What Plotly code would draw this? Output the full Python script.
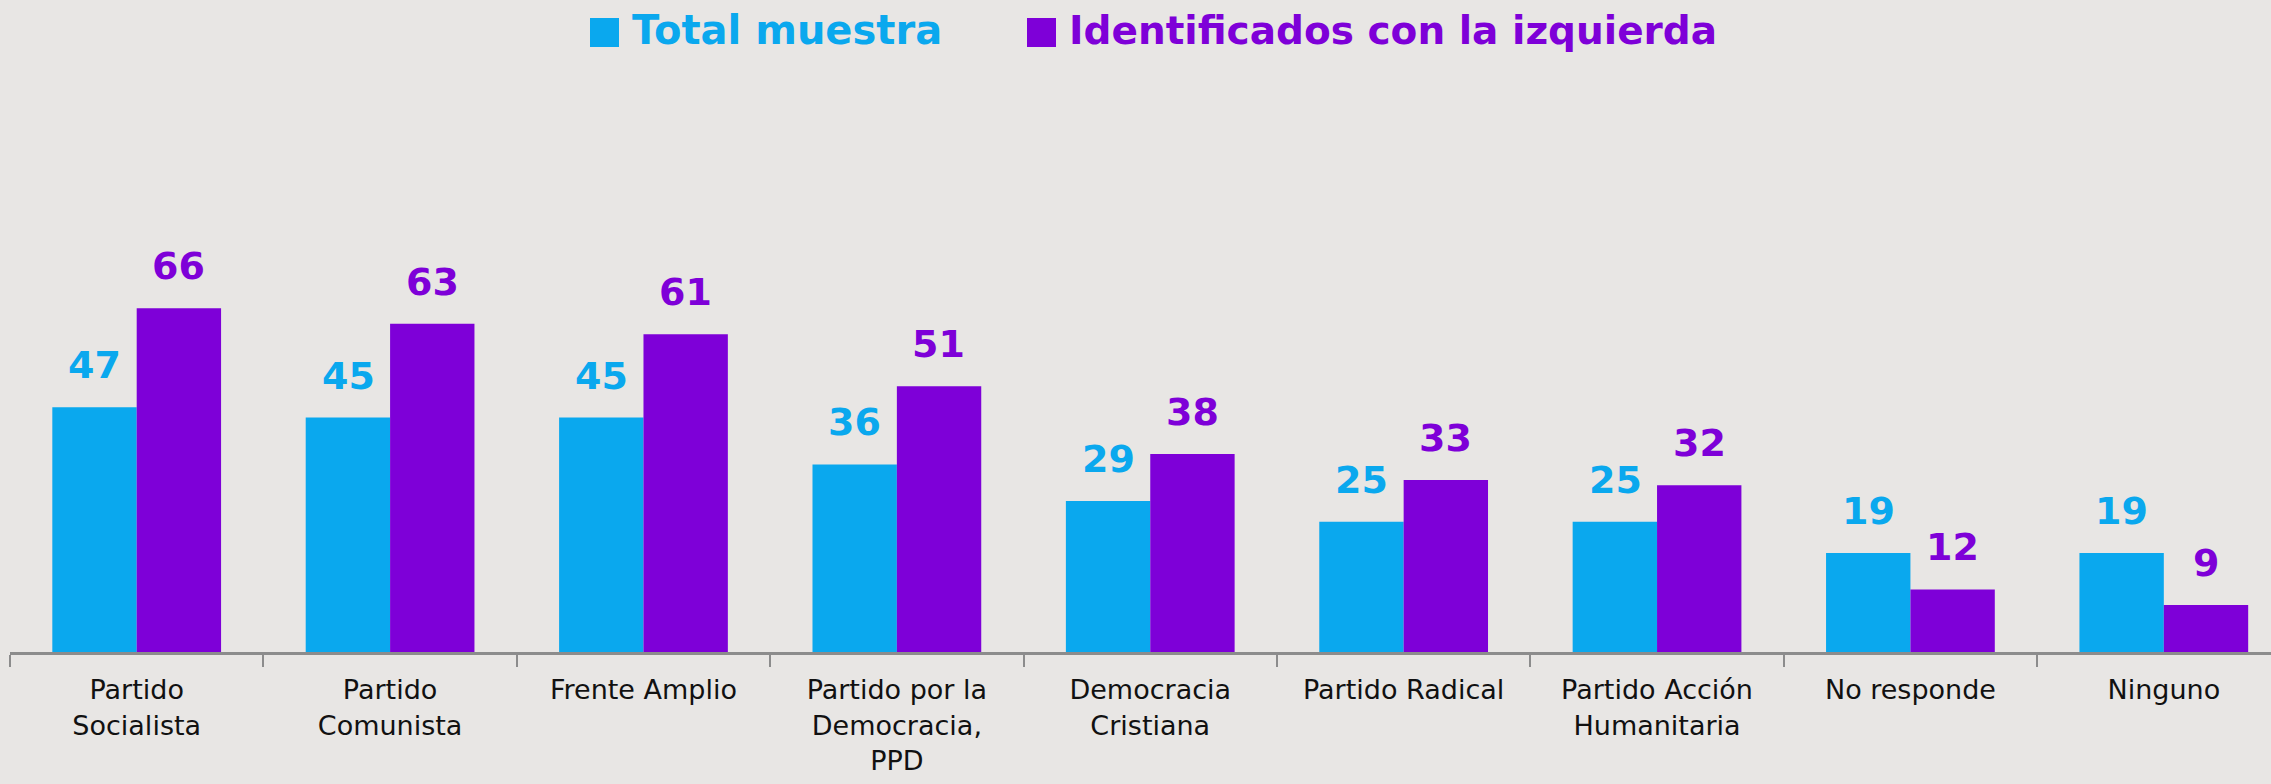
import plotly.graph_objects as go

categories = ["Partido<br>Socialista", "Partido<br>Comunista", "Frente Amplio",
              "Partido por la<br>Democracia,<br>PPD", "Democracia<br>Cristiana",
              "Partido Radical", "Partido Acción<br>Humanitaria", "No responde", "Ninguno"]
total_muestra = [47, 45, 45, 36, 29, 25, 25, 19, 19]
izquierda = [66, 63, 61, 51, 38, 33, 32, 12, 9]
series_names = ["Total muestra", "Identificados con la izquierda"]

BLUE = "#0aa8ee"
PURPLE = "#7e00d8"
BG = "#e8e6e4"
FONT = "DejaVu Sans"

fig = go.Figure()
fig.add_bar(x=categories, y=total_muestra, name=series_names[0], marker_color=BLUE,
            marker_line_width=0, showlegend=False, hoverinfo="skip")
fig.add_bar(x=categories, y=izquierda, name=series_names[1], marker_color=PURPLE,
            marker_line_width=0, showlegend=False, hoverinfo="skip")

annotations = []
for vals, color, shift in [(total_muestra, BLUE, -42), (izquierda, PURPLE, 42)]:
    for c, v in zip(categories, vals):
        annotations.append(dict(x=c, y=v, xref="x", yref="y", text=f"<b>{v}</b>",
                                showarrow=False, xshift=shift, yshift=18, yanchor="bottom",
                                font=dict(family=FONT, size=38, color=color)))

LEG_Y = 1 + (60 - 30) / 592
annotations.append(dict(xref="paper", yref="paper", x=(630 - 10) / 2261, y=LEG_Y,
                        xanchor="left", yanchor="middle", showarrow=False,
                        text=f"<b>{series_names[0]}</b>",
                        font=dict(family=FONT, size=40, color=BLUE)))
annotations.append(dict(xref="paper", yref="paper", x=(1067 - 10) / 2261, y=LEG_Y,
                        xanchor="left", yanchor="middle", showarrow=False,
                        text=f"<b>{series_names[1]}</b>",
                        font=dict(family=FONT, size=39, color=PURPLE)))

shapes = [
    dict(type="rect", xref="paper", yref="paper", x0=(590 - 10) / 2261, x1=(619 - 10) / 2261,
         y0=1 + (60 - 47) / 592, y1=1 + (60 - 18) / 592, fillcolor=BLUE, line_width=0),
    dict(type="rect", xref="paper", yref="paper", x0=(1027 - 10) / 2261, x1=(1056 - 10) / 2261,
         y0=1 + (60 - 47) / 592, y1=1 + (60 - 18) / 592, fillcolor=PURPLE, line_width=0),
]

fig.update_layout(
    width=2271, height=784,
    paper_bgcolor=BG, plot_bgcolor=BG,
    margin=dict(l=10, r=0, t=60, b=132, autoexpand=False),
    barmode="group", bargap=0.334, bargroupgap=0,
    annotations=annotations, shapes=shapes,
    xaxis=dict(type="category", range=[-0.5, 8.423], showline=True, linecolor="#8c8c8c",
               linewidth=3, ticks="outside", tickson="boundaries", ticklen=12,
               tickcolor="#8c8c8c", tickwidth=2, automargin=False, ticklabelstandoff=12,
               tickfont=dict(family=FONT, size=27, color="#111111"), fixedrange=True),
    yaxis=dict(range=[0, 592 / 5.21], visible=False, showgrid=False, zeroline=False,
               automargin=False, fixedrange=True),
    font=dict(family=FONT),
)

fig.write_html("out.html", config={"displayModeBar": False, "staticPlot": True},
               post_script="document.body.style.margin='0';document.body.style.overflow='hidden';")
